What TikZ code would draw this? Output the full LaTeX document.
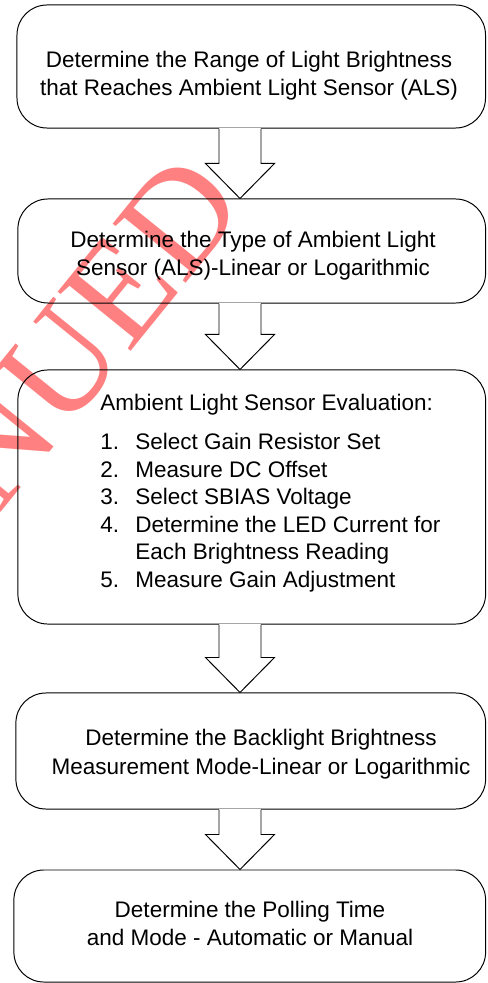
\documentclass[tikz,border=0pt]{standalone}
\usepackage{fontspec}
\setmainfont{Liberation Sans}
\newfontfamily\wmfont{Liberation Serif}
\usetikzlibrary{calc}

% number column of the evaluation list
\newcommand{\itm}[1]{\makebox[24.9pt][l]{#1}}
% hollow block arrow between two boxes
\newcommand{\blockarrow}[2]{%
    \draw[white, line width=1.4pt] ($(#1.south -| ax)+(-20.6,0)$) -- ($(#1.south -| ax)+(20.6,0)$);
    \draw[blockarr] ($(#1.south -| ax)+(-21,0)$) |- ($(#2.north -| ax)+(-34.5,-35)$)
        -- (#2.north -| ax) -- ($(#2.north -| ax)+(34.5,-35)$) -| ($(#1.south -| ax)+(21,0)$);
}

\begin{document}
\begin{tikzpicture}[x=0.025cm, y=-0.025cm,
    stepbox/.style={draw, line width=0.7pt, rounded corners=0.75cm},
    steptext/.style={align=center, inner sep=0pt, font=\fontsize{16}{20}\selectfont},
    blockarr/.style={draw, line width=0.7pt, line join=miter},
    wmark/.style={text=red!50, font=\wmfont\fontsize{102}{102}\selectfont, inner sep=0pt}
]
    \useasboundingbox (0,0) rectangle (487,983);
    \clip (0,0) rectangle (487,983);

    % watermark
    \node[wmark, rotate=51, anchor=east] (wm) at (213,176) {DISCONTINUED};

    % boxes
    \node[stepbox, minimum width=11.71cm, minimum height=3.075cm] (b1) at (251.25,66.5) {};
    \node[stepbox, minimum width=11.69cm, minimum height=2.6cm] (b2) at (251.75,251) {};
    \node[stepbox, minimum width=11.69cm, minimum height=6.35cm] (b3) at (251.75,497) {};
    \node[stepbox, minimum width=11.74cm, minimum height=2.9cm] (b4) at (250.75,751) {};
    \node[stepbox, minimum width=11.79cm, minimum height=2.8cm] (b5) at (249.75,926) {};

    % texts
    \node[steptext] (t1) at (249,76)
        {Determine the Range of Light Brightness\\that Reaches Ambient Light Sensor (ALS)};
    \node[steptext] (t2) at (253,256)
        {Determine the Type of Ambient Light\\Sensor (ALS)-Linear or Logarithmic};
    \node[steptext, anchor=north west, align=left, font=\fontsize{16}{19.5}\selectfont] (t3) at (100,394)
        {Ambient Light Sensor Evaluation:\\[8.5pt]
         \itm{1.}Select Gain Resistor Set\\
         \itm{2.}Measure DC Offset\\
         \itm{3.}Select SBIAS Voltage\\
         \itm{4.}Determine the LED Current for\\
         \itm{}Each Brightness Reading\\
         \itm{5.}Measure Gain Adjustment};
    \node[steptext, font=\fontsize{16}{21}\selectfont] (t4) at (261,754)
        {Determine the Backlight Brightness\\Measurement Mode-Linear or Logarithmic};
    \node[steptext] (t5) at (250,923.5)
        {Determine the Polling Time\\and Mode - Automatic or Manual};

    % arrows
    \coordinate (ax) at (240,0);
    \blockarrow{b1}{b2}
    \blockarrow{b2}{b3}
    \blockarrow{b3}{b4}
    \blockarrow{b4}{b5}
\end{tikzpicture}
\end{document}
